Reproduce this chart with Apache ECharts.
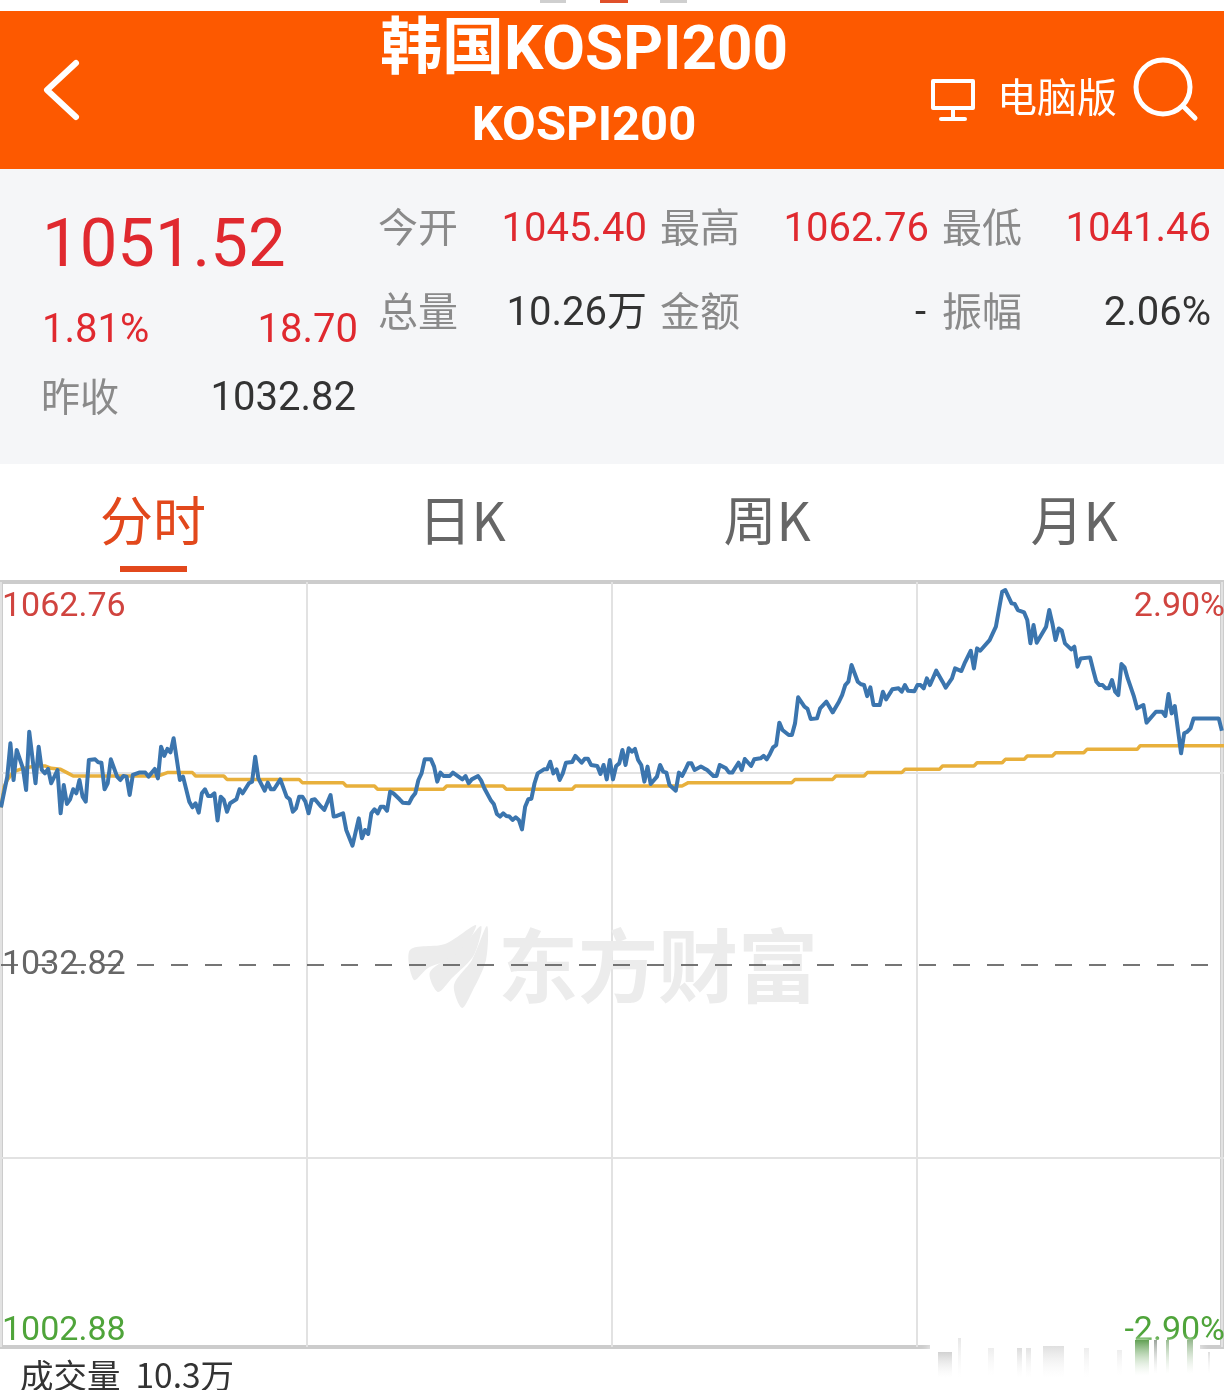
<!DOCTYPE html>
<html>
<head>
<meta charset="utf-8">
<title>KOSPI200</title>
<script src="https://cdn.jsdelivr.net/npm/echarts@6/dist/echarts.min.js"></script>
<style>
  html, body { margin: 0; padding: 0; background: #fff; }
  #main { width: 1224px; height: 1390px; }
</style>
</head>
<body>
<div id="main"></div>
<script>
// [minute after the open, price]
const pricePoints = [
  [0,1045.40],[2,1047.86],[3,1050.52],[4,1047.59],[5,1049.99],[7,1048.52],[8,1046.79],[9,1051.45],[11,1047.33],[12,1050.25],
  [13,1048.39],[14,1048.12],[15,1048.47],[16,1047.33],[18,1048.39],[19,1044.93],[20,1047.19],[21,1045.68],[22,1046.05],[23,1046.85],
  [24,1046.53],[25,1047.59],[26,1046.26],[27,1045.86],[28,1049.19],[30,1049.24],[31,1049.00],[32,1048.97],[33,1046.85],[34,1047.33],
  [35,1049.24],[37,1047.86],[38,1047.59],[39,1047.91],[40,1047.86],[41,1046.39],[42,1047.99],[44,1048.18],[46,1048.18],[47,1047.86],
  [49,1048.47],[50,1047.72],[51,1050.25],[52,1049.51],[53,1050.07],[54,1049.80],[55,1050.92],[57,1047.59],[58,1047.86],[60,1045.86],
  [61,1045.41],[62,1045.73],[63,1044.98],[64,1046.53],[65,1046.85],[66,1046.31],[67,1046.31],[68,1046.53],[69,1044.35],[70,1046.26],
  [71,1046.00],[72,1045.06],[73,1045.73],[75,1046.05],[76,1046.85],[77,1046.53],[79,1047.33],[80,1047.46],[81,1049.45],[82,1047.72],
  [84,1046.74],[85,1047.38],[86,1046.85],[87,1046.85],[89,1047.64],[91,1046.26],[92,1046.05],[93,1045.06],[94,1045.33],[95,1046.26],
  [96,1046.26],[97,1045.86],[98,1044.93],[99,1046.00],
  [100,1046.05],[102,1045.46],[103,1045.20],[105,1046.39],[106,1044.67],[107,1044.72],[109,1044.93],[110,1043.60],[112,1042.35],[114,1044.53],
  [115,1042.94],[116,1043.60],[117,1043.28],[118,1044.93],[119,1045.25],[120,1044.93],[121,1045.46],[122,1045.46],[123,1045.14],[124,1046.66],
  [125,1046.53],[127,1046.05],[128,1045.78],[130,1045.73],[131,1046.21],[132,1046.53],[133,1047.59],[134,1048.12],[135,1049.24],[137,1049.24],
  [138,1048.66],[139,1047.46],[140,1048.18],[141,1047.91],[143,1047.91],[144,1048.18],[147,1047.64],[148,1047.91],[149,1047.33],[150,1047.64],
  [152,1047.91],[153,1047.54],[154,1046.93],[156,1046.00],[157,1045.68],[158,1044.88],[159,1044.67],[160,1044.93],[161,1044.72],[162,1044.67],
  [163,1044.40],[164,1044.61],[165,1044.40],[166,1043.65],[167,1045.46],[168,1046.05],[169,1046.10],[170,1047.33],[171,1048.12],[173,1048.44],
  [174,1048.44],[175,1049.05],[176,1048.12],[177,1048.44],[178,1047.59],[179,1048.12],[180,1048.97],[182,1049.03],[183,1049.51],[185,1048.97],
  [186,1049.29],[187,1049.29],[188,1048.79],[190,1048.71],[191,1048.07],[192,1048.79],[193,1047.64],[194,1049.19],[195,1047.64],[196,1048.71],
  [197,1048.92],[198,1049.99],
  [199,1048.79],[200,1050.12],[201,1049.85],[202,1050.07],[203,1049.19],[204,1048.79],[205,1047.46],[206,1048.66],[207,1047.27],[209,1047.86],
  [210,1048.79],[211,1048.26],[212,1048.18],[213,1047.19],[215,1046.74],[216,1048.18],[217,1047.91],[218,1048.39],[219,1048.92],[220,1048.92],
  [221,1048.39],[223,1048.66],[224,1048.52],[225,1048.39],[227,1047.91],[228,1047.91],[229,1048.79],[231,1048.52],[232,1048.18],[233,1048.18],
  [235,1048.97],[236,1048.39],[237,1049.27],[239,1048.71],[240,1049.24],[242,1049.32],[243,1049.51],[244,1049.24],[245,1049.67],[246,1050.20],
  [247,1050.38],[248,1052.17],[249,1051.58],[251,1051.18],[252,1051.18],[253,1052.11],[254,1054.19],[256,1053.44],[257,1053.26],[258,1052.46],
  [260,1052.51],[261,1053.31],[263,1053.84],[265,1052.99],[267,1053.84],[268,1054.37],[269,1055.17],[270,1055.44],[271,1056.77],[273,1055.44],
  [274,1055.23],[275,1055.17],[276,1054.29],[277,1054.99],[278,1053.58],[280,1053.58],[281,1054.64],[282,1054.03],[284,1054.83],[286,1054.91],
  [287,1054.64],[288,1055.17],[289,1054.72],[291,1054.67],[292,1055.17],[293,1055.17],
  [294,1054.91],[295,1055.70],[296,1055.17],[298,1056.32],[300,1055.44],[301,1054.96],[303,1055.70],[304,1056.50],[306,1056.29],[307,1056.90],
  [309,1057.91],[310,1056.50],[311,1058.10],[312,1057.91],[315,1058.76],[316,1059.30],[317,1059.83],[319,1062.62],[320,1062.76],[322,1061.69],
  [323,1061.64],[324,1061.16],[326,1060.97],[327,1060.36],[328,1058.50],[329,1059.96],[330,1058.55],[333,1059.83],[334,1061.16],[335,1060.09],
  [336,1058.76],[337,1059.69],[338,1059.51],[339,1058.50],[341,1058.02],[342,1058.23],[343,1056.64],[344,1057.30],[347,1057.38],[348,1056.37],
  [349,1055.44],[350,1055.17],[351,1055.17],[352,1054.91],[353,1054.91],[354,1055.57],[355,1054.64],[356,1054.37],[357,1056.85],[358,1056.58],
  [359,1055.70],[361,1054.24],[362,1053.31],[364,1053.58],[365,1052.17],[368,1053.04],[370,1053.04],[371,1052.70],[372,1054.45],[373,1052.91],
  [374,1053.50],[376,1049.72],[377,1051.32],[378,1051.45],[379,1051.71],[380,1052.51],[388,1052.51],[389,1051.52]
];

const avgPoints = [
  [0,1045.40],[1,1047.06],[2,1047.59],[4,1048.26],[7,1048.52],[11,1048.71],[14,1048.71],[16,1048.52],[19,1048.44],[21,1048.18],
  [23,1047.91],[50,1047.91],[53,1048.18],[61,1048.18],[62,1047.91],[71,1047.91],[72,1047.64],[95,1047.64],[96,1047.38],[109,1047.38],
  [110,1047.11],[119,1047.11],[120,1046.85],[141,1046.85],[142,1047.11],[160,1047.11],[161,1046.85],[182,1046.85],[183,1047.11],[217,1047.11],
  [219,1047.38],[252,1047.38],[253,1047.64],[265,1047.64],[266,1047.91],[275,1047.91],[276,1048.18],[287,1048.18],[288,1048.44],[299,1048.44],
  [300,1048.71],[310,1048.71],[311,1048.97],[319,1048.97],[320,1049.24],[326,1049.24],[327,1049.51],[335,1049.51],[336,1049.77],[345,1049.77],
  [346,1050.04],[362,1050.04],[363,1050.33],[390,1050.33]
];

const priceTicks = [1002.88, 1032.82, 1062.76];
const pctTicks = { 1002.88: '-2.90%', 1062.76: '2.90%' };
const prevClose = 1032.82;
const quarterLines = [1017.45, 1048.15];

const title = '韩国KOSPI200';
const subtitle = 'KOSPI200';
const lastPrice = '1051.52';
const changeRow = ['1.81%', '18.70'];
const prevRow = ['昨收', '1032.82'];
const statsRow1 = [['今开', '1045.40'], ['最高', '1062.76'], ['最低', '1041.46']];
const statsRow2 = [['总量', '10.26万'], ['金额', '-'], ['振幅', '2.06%']];
const tabs = ['分时', '日K', '周K', '月K'];
const volumeText = '成交量  10.3万';
const watermark = '东方财富';

const RED = '#e0292f';
const GRAY = '#8a8a8a';
const DARK = '#333333';
const FONT = 'Roboto, "Noto Sans CJK SC", sans-serif';
const CJK = '"Noto Sans CJK SC", sans-serif';

function txt(x, y, text, size, fill, align, weight, family) {
  return {
    type: 'text', x: x, y: family ? y : y + size * 0.1, z: 1,
    style: {
      text: text, fill: fill, align: align || 'left', verticalAlign: 'middle',
      font: (weight || 'normal') + ' ' + size + 'px ' + (family || FONT)
    }
  };
}
function box(x, y, w, h, fill) {
  return { type: 'rect', z: 0, shape: { x: x, y: y, width: w, height: h }, style: { fill: fill } };
}
function stroke(type, shape, w) {
  return { type: type, z: 1, shape: shape, style: { stroke: '#fff', fill: null, lineWidth: w, lineCap: 'round', lineJoin: 'round' } };
}
function flame(points) {
  return { type: 'polygon', z: 0, shape: { points: points, smooth: 0.3 }, style: { fill: '#ececec' } };
}
// blurred smear over the bottom right corner of the screenshot
function smear(x, y, w, h, color) {
  return {
    type: 'rect', z: 6, shape: { x: x, y: y, width: w, height: h },
    style: {
      fill: { type: 'linear', x: 0, y: 0, x2: 0, y2: 1, colorStops: [{ offset: 0, color: color }, { offset: 1, color: 'rgba(255,255,255,0.2)' }] },
      shadowBlur: 5, shadowColor: 'rgba(255,255,255,0.8)'
    }
  };
}

const statLabelX = [378, 660, 942];
const statValueX = [647, 929, 1211];
const statColors1 = [RED, RED, RED];
const statColors2 = [DARK, DARK, DARK];

const elements = [
  box(540, 0, 26, 3, '#cfcfcf'), box(600, 0, 28, 3, '#e0502a'), box(660, 0, 27, 3, '#cfcfcf'),
  box(0, 11, 1224, 158, '#fd5900'),
  box(0, 169, 1224, 295, '#f5f6f8'),
  txt(584, 47, title, 62, '#fff', 'center', 'bold'),
  txt(584, 123, subtitle, 49, '#fff', 'center', 'bold'),
  stroke('polyline', { points: [[76, 63], [47, 90], [76, 117]] }, 6),
  stroke('rect', { x: 933, y: 81, width: 40, height: 27 }, 4),
  stroke('line', { x1: 953, y1: 108, x2: 953, y2: 118 }, 4),
  stroke('line', { x1: 941, y1: 119, x2: 965, y2: 119 }, 4),
  txt(997, 97, '电脑版', 40, '#fff', 'left', 'normal', CJK),
  stroke('circle', { cx: 1163, cy: 87, r: 27 }, 5),
  stroke('line', { x1: 1183, y1: 106, x2: 1195, y2: 118 }, 5),
  txt(42, 243, lastPrice, 67, RED),
  txt(42, 328, changeRow[0], 40, RED),
  txt(358, 328, changeRow[1], 40, RED, 'right'),
  txt(41, 396, prevRow[0], 39, GRAY, 'left', 'normal', CJK),
  txt(356, 396, prevRow[1], 40, DARK, 'right'),
  box(120, 566, 67, 6, '#e2481c'),
  txt(153, 521, tabs[0], 53, '#e2481c', 'center', 'normal', CJK),
  txt(462, 521, tabs[1], 53, '#666', 'center', 'normal', CJK),
  txt(767, 521, tabs[2], 53, '#666', 'center', 'normal', CJK),
  txt(1074, 521, tabs[3], 53, '#666', 'center', 'normal', CJK),
  txt(20, 1375, volumeText, 33.5, DARK, 'left', 'normal', CJK),
  // watermark
  flame([[410, 950], [445, 944], [476, 925], [458, 955], [428, 968], [414, 980]]),
  flame([[481, 926], [474, 955], [452, 978], [438, 992], [430, 972], [458, 952]]),
  flame([[487, 926], [486, 960], [472, 992], [462, 1008], [454, 985], [472, 960]]),
  txt(498, 966, watermark, 80, '#ececec', 'left', 'bold', CJK),
  // smear
  { type: 'rect', z: 5, shape: { x: 930, y: 1344, width: 270, height: 46 }, style: { fill: '#fff', shadowBlur: 10, shadowColor: '#fff' } },
  smear(938, 1352, 14, 26, 'rgba(190,190,190,0.7)'),
  smear(958, 1338, 3, 40, 'rgba(215,215,215,0.6)'),
  smear(988, 1348, 6, 28, 'rgba(225,225,225,0.6)'),
  smear(1017, 1348, 5, 30, 'rgba(205,205,205,0.7)'),
  smear(1026, 1348, 5, 30, 'rgba(215,215,215,0.7)'),
  smear(1043, 1346, 21, 32, 'rgba(215,215,215,0.8)'),
  smear(1084, 1348, 5, 30, 'rgba(225,225,225,0.6)'),
  smear(1117, 1350, 5, 26, 'rgba(225,225,225,0.6)'),
  smear(1135, 1340, 14, 36, 'rgba(80,150,65,0.9)'),
  smear(1154, 1340, 3, 34, 'rgba(130,140,130,0.8)'),
  smear(1166, 1340, 3, 34, 'rgba(110,160,100,0.7)'),
  smear(1187, 1340, 6, 34, 'rgba(120,165,110,0.8)'),
  smear(1208, 1352, 2, 22, 'rgba(200,200,200,0.6)')
];
statsRow1.forEach(function (s, i) {
  elements.push(txt(statLabelX[i], 227, s[0], 40, GRAY, 'left', 'normal', CJK));
  elements.push(txt(statValueX[i], 227, s[1], 40, statColors1[i], 'right'));
});
statsRow2.forEach(function (s, i) {
  elements.push(txt(statLabelX[i], 311, s[0], 40, GRAY, 'left', 'normal', CJK));
  elements.push(txt(statValueX[i] - (i === 1 ? 3 : 0), 311, s[1], 40, statColors2[i], 'right'));
});

function tickColor(v) {
  if (v > prevClose) return '#d0443f';
  if (v < prevClose) return '#4fa43a';
  return '#666';
}

const option = {
  animation: false,
  backgroundColor: '#fff',
  graphic: { elements: elements },
  grid: [
    { left: 1, width: 1224, top: 590, height: 750, outerBoundsMode: 'none' },
    { left: 1, width: 1221, top: 582, height: 765, show: true, backgroundColor: 'transparent', borderColor: '#cccccc', borderWidth: 4, z: 0, outerBoundsMode: 'none' }
  ],
  xAxis: [
    { type: 'value', gridIndex: 0, min: 0, max: 390, show: false },
    {
      type: 'value', gridIndex: 1, min: 0, max: 4, interval: 1,
      axisLine: { show: false }, axisTick: { show: false }, axisLabel: { show: false },
      splitLine: { show: true, lineStyle: { color: '#e2e2e2', width: 2 } }
    }
  ],
  yAxis: [
    {
      type: 'value', gridIndex: 0, min: 1002.88, max: 1062.76,
      axisLine: { show: false }, axisTick: { show: false }, splitLine: { show: false },
      axisLabel: {
        inside: true, margin: 1, fontSize: 34, fontFamily: 'Roboto', customValues: priceTicks,
        verticalAlignMinLabel: 'bottom', verticalAlignMaxLabel: 'top', padding: [0, 0, -8, 0],
        formatter: function (v) { return v.toFixed(2); },
        color: tickColor
      }
    },
    {
      type: 'value', gridIndex: 0, position: 'right', min: 1002.88, max: 1062.76,
      axisLine: { show: false }, axisTick: { show: false }, splitLine: { show: false },
      axisLabel: {
        inside: true, margin: 0, fontSize: 34, fontFamily: 'Roboto', customValues: [1002.88, 1062.76],
        verticalAlignMinLabel: 'bottom', verticalAlignMaxLabel: 'top', padding: [0, 0, -8, 0],
        formatter: function (v) { return pctTicks[v] || ''; },
        color: tickColor
      }
    },
    { type: 'value', gridIndex: 1, min: 0, max: 1, show: false }
  ],
  series: [
    {
      name: '均价', type: 'line', data: avgPoints, showSymbol: false, clip: false, z: 3,
      lineStyle: { color: '#e8b03c', width: 3.5 },
      markLine: {
        silent: true, symbol: 'none', label: { show: false }, animation: false, z: 1,
        data: quarterLines.map(function (v) {
          return { yAxis: v, lineStyle: { color: '#e2e2e2', width: 2, type: 'solid' } };
        }).concat([{ yAxis: prevClose, lineStyle: { color: '#666', width: 1.8, type: [17, 17] } }])
      }
    },
    {
      name: '价格', type: 'line', data: pricePoints, showSymbol: false, clip: false, z: 4,
      lineStyle: { color: '#3b75ae', width: 4, join: 'round' }
    }
  ]
};

const myChart = echarts.init(document.getElementById('main'));
myChart.setOption(option);
</script>
</body>
</html>
